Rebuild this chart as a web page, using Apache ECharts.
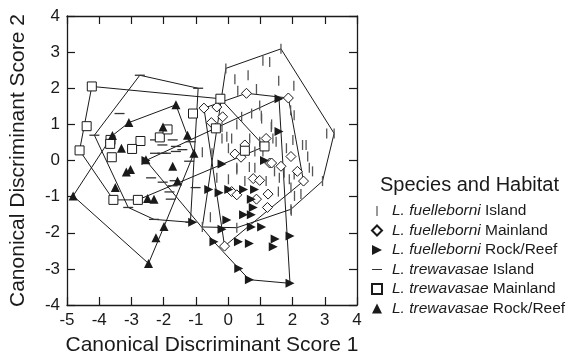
<!DOCTYPE html>
<html>
<head>
<meta charset="utf-8">
<script src="https://cdn.jsdelivr.net/npm/echarts@6/dist/echarts.min.js"></script>
<style>
html, body { margin: 0; padding: 0; background: #fff; }
#chart { width: 569px; height: 361px; }
</style>
</head>
<body>
<div id="chart"></div>
<script>
// axis ticks
var xTicks = [-5, -4, -3, -2, -1, 0, 1, 2, 3, 4];
var yTicks = [-4, -3, -2, -1, 0, 1, 2, 3, 4];

// L. fuelleborni Island  (|)
var fuelIsland = [
  [-0.07, 2.55], [1.64, 3.09], [3.29, 0.75], [2.93, -0.57], [1.95, -1.35], [0.27, -1.86], [-0.8, -1.84],
  [1.08, 2.76], [1.29, 2.73], [0.21, 2.25], [0.62, 2.36], [1.57, 2.21], [2.04, 2.07], [0.88, 1.98],
  [0.3, 1.93], [0.98, 1.52], [0.73, 1.3], [0.42, 1.21], [1.03, 1.24], [1.94, 1.39], [2.05, 1.25],
  [1.34, 0.93], [0.27, 1.0], [-0.19, 0.93], [-0.19, 0.61], [-0.04, 0.66], [0.67, 0.61], [1.39, 0.61],
  [1.49, 0.52], [2.31, 0.43], [2.42, 0.43], [3.06, 0.75], [1.08, 0.25], [2.01, 0.57], [2.47, 0.11],
  [1.81, 0.34], [0.98, 0.52], [0.83, 0.25], [0.11, 0.61], [0.01, 0.34], [-0.5, 0.2], [-0.8, 0.23],
  [1.04, 1.16], [1.35, 1.0], [0.27, -0.25], [0.83, -0.2], [1.59, -0.48], [1.74, -0.34], [2.05, -0.39],
  [1.9, -0.52], [1.44, -0.3], [1.18, -0.57], [0.52, -0.57], [0.01, -0.52], [-0.55, -1.57], [1.56, -0.86],
  [1.95, -0.75], [2.26, -0.93], [2.06, -0.98], [1.96, -1.39], [2.52, -0.2], [2.62, -0.3], [-0.35, -0.48],
  [0.66, -0.18], [0.27, -0.2]
];
var fuelIslandHull = [[-0.07, 2.55], [1.64, 3.09], [3.29, 0.75], [2.93, -0.57], [1.95, -1.35], [0.27, -1.86], [-0.8, -1.84]];

// L. fuelleborni Mainland  (diamond)
var fuelMain = [
  [0.57, 1.86], [1.87, 1.73], [-0.75, 1.45], [-0.35, 1.48], [-0.17, 1.21], [-0.52, 1.05], [1.18, 0.61],
  [0.52, 0.43], [0.21, 0.18], [0.4, 0.09], [1.29, -0.07], [1.35, -0.07], [1.64, -0.16], [1.95, 0.11],
  [2.15, -0.3], [2.34, -0.57], [0.78, -0.5], [0.98, -0.55], [0.11, -0.86], [0.27, -0.95], [0.88, -1.07],
  [1.24, -0.93], [1.22, -1.3], [-0.11, -2.37]
];
var fuelMainHull = [[0.57, 1.86], [1.87, 1.73], [2.34, -0.57], [-0.11, -2.37], [-0.75, 1.45]];

// L. fuelleborni Rock/Reef  (right triangle)
var fuelRock = [
  [1.58, 1.71], [1.58, 0.8], [1.13, 0.0], [-0.19, -0.1], [-0.6, -0.8], [-0.28, -0.89], [0.02, -0.8],
  [0.48, -0.8], [0.82, -0.8], [0.72, -1.07], [0.78, -1.3], [-0.04, -1.65], [0.48, -1.5], [0.72, -1.5],
  [1.04, -1.84], [0.72, -1.84], [-0.19, -1.9], [-1.1, -1.71], [1.46, -2.17], [1.4, -2.39], [1.92, -2.09],
  [0.32, -2.25], [0.66, -2.3], [-0.44, -2.25], [0.33, -2.99], [0.66, -3.3], [1.92, -3.4], [-2.55, 0.0]
];
var fuelRockHull = [[1.58, 1.71], [1.92, -3.4], [0.66, -3.3], [0.33, -2.99], [-0.44, -2.25], [-2.55, 0.0]];

// L. trewavasae Island  (dash)
var trewIsland = [
  [-2.74, 2.36], [-0.93, 2.0], [-1.17, -1.71], [-2.3, -1.63], [-3.1, -1.3], [-4.15, 0.7],
  [-3.37, 1.3], [-2.27, 0.57], [-2.04, 0.43], [-2.27, 0.2], [-2.04, 0.2], [-1.72, 0.57], [-1.62, 0.25],
  [-1.42, 0.3], [-1.16, 0.52], [-2.39, -0.48], [-2.03, -0.6], [-1.72, -0.7], [-1.78, -1.07], [-1.21, -0.02],
  [-1.01, -0.75], [-1.66, -0.56], [-1.82, -0.87], [-1.62, 0.39], [-1.93, 0.2]
];
var trewIslandHull = [[-2.74, 2.36], [-0.93, 2.0], [-1.17, -1.71], [-2.3, -1.63], [-3.1, -1.3], [-4.15, 0.7]];

// L. trewavasae Mainland  (square)
var trewMain = [
  [-4.23, 2.05], [-4.39, 0.95], [-4.61, 0.28], [-3.65, 0.57], [-3.66, 0.46], [-2.72, 0.54], [-2.98, 0.32],
  [-3.61, 0.09], [-2.12, 0.64], [-1.88, 0.86], [-1.09, 1.3], [-0.24, 1.71], [-0.38, 0.89], [0.52, 0.27],
  [1.13, 0.39], [-3.56, -1.09], [-2.8, -1.09]
];
var trewMainHull = [[-4.23, 2.05], [-0.24, 1.71], [1.13, 0.39], [-2.8, -1.09], [-3.56, -1.09], [-4.61, 0.28]];

// L. trewavasae Rock/Reef  (triangle)
var trewRock = [
  [-4.81, -0.98], [-2.47, -2.85], [-2.24, -2.14], [-1.99, -1.83], [-3.5, -0.75], [-3.16, -0.32], [-3.03, -0.25],
  [-2.5, -1.05], [-2.3, -1.07], [-3.59, 0.69], [-3.08, 1.05], [-3.31, 0.34], [-2.02, 0.93], [-2.55, 0.02],
  [-1.62, 1.54], [-1.26, 0.7], [-1.06, 0.2], [-1.72, -0.16], [-1.57, -0.57]
];
var trewRockHull = [[-1.62, 1.54], [-1.06, 0.2], [-1.99, -1.83], [-2.47, -2.85], [-4.81, -0.98], [-3.59, 0.69], [-3.08, 1.05]];

var groupNames = ['L. fuelleborni Island', 'L. fuelleborni Mainland', 'L. fuelleborni Rock/Reef',
  'L. trewavasae Island', 'L. trewavasae Mainland', 'L. trewavasae Rock/Reef'];

var font = '"Liberation Sans", Arial, Helvetica, sans-serif';
var ink = '#1a1a1a';

function hullSeries(pts) {
  return {
    type: 'line',
    data: pts.concat([pts[0]]),
    symbol: 'none',
    silent: true,
    z: 1,
    lineStyle: { color: ink, width: 1 },
    animation: false
  };
}

var myChart = echarts.init(document.getElementById('chart'), null, { renderer: 'canvas' });

var axisCommon = {
  type: 'value',
  axisLine: { onZero: false, lineStyle: { color: ink, width: 1.3 } },
  axisTick: { inside: true, length: 8, lineStyle: { color: ink, width: 1.2 } },
  splitLine: { show: false }
};

// legend icons drawn inside a 10x10 box (corner dots keep the box size)
var box = 'M0,0L0.01,0M10,10L9.99,10';

var option = {
  animation: false,
  backgroundColor: '#fff',
  textStyle: { fontFamily: font },
  title: {
    text: 'Species and Habitat',
    left: 375, top: 170,
    textStyle: { fontFamily: font, fontSize: 20, fontWeight: 'normal', color: ink }
  },
  legend: {
    orient: 'vertical',
    left: 366, top: 198,
    itemWidth: 20, itemHeight: 10,
    itemGap: 3.5,
    symbolKeepAspect: true,
    selectedMode: false,
    textStyle: {
      fontFamily: font, fontSize: 15.5, color: ink, lineHeight: 15,
      rich: { i: { fontFamily: font, fontSize: 15.5, fontStyle: 'italic', color: ink } }
    },
    formatter: function (name) {
      return name.replace(/^(L\. \w+)/, '{i|$1}');
    },
    data: [
      { name: groupNames[0], icon: 'path://' + box + 'M4.4,0h1.2v10h-1.2z' },
      { name: groupNames[1], icon: 'path://M5,0L10,5L5,10L0,5Z' },
      { name: groupNames[2], icon: 'path://M0,0L10,5L0,10Z' },
      { name: groupNames[3], icon: 'path://' + box + 'M0,4.4h10v1.2h-10z' },
      { name: groupNames[4], icon: 'path://M0,0h10v10h-10z' },
      { name: groupNames[5], icon: 'path://M5,0L10,10L0,10Z' }
    ]
  },
  grid: { left: 63, right: 212, top: 16, bottom: 52 },
  xAxis: [
    Object.assign({}, axisCommon, {
      min: xTicks[0], max: xTicks[xTicks.length - 1], interval: 1,
      axisLabel: { fontFamily: font, fontSize: 17, color: ink, margin: 7 },
      name: 'Canonical Discriminant Score 1',
      nameLocation: 'middle', nameGap: 30,
      nameTextStyle: { fontFamily: font, fontSize: 21, color: ink }
    }),
    Object.assign({}, axisCommon, {
      position: 'top',
      min: xTicks[0], max: xTicks[xTicks.length - 1], interval: 1,
      axisLabel: { show: false }
    })
  ],
  yAxis: [
    Object.assign({}, axisCommon, {
      min: yTicks[0], max: yTicks[yTicks.length - 1], interval: 1,
      axisLabel: { fontFamily: font, fontSize: 17, color: ink, margin: 7 },
      name: 'Canonical Discriminant Score 2',
      nameLocation: 'middle', nameGap: 38,
      nameTextStyle: { fontFamily: font, fontSize: 21, color: ink }
    }),
    Object.assign({}, axisCommon, {
      position: 'right',
      min: yTicks[0], max: yTicks[yTicks.length - 1], interval: 1,
      axisLabel: { show: false }
    })
  ],
  series: [
    hullSeries(fuelIslandHull),
    hullSeries(fuelMainHull),
    hullSeries(fuelRockHull),
    hullSeries(trewIslandHull),
    hullSeries(trewMainHull),
    hullSeries(trewRockHull),
    {
      name: groupNames[0], type: 'scatter', data: fuelIsland, z: 3,
      symbol: 'rect', symbolSize: [1.3, 10],
      itemStyle: { color: '#555', opacity: 1 }
    },
    {
      name: groupNames[1], type: 'scatter', data: fuelMain, z: 4,
      symbol: 'diamond', symbolSize: 10,
      itemStyle: { color: '#fff', borderColor: ink, borderWidth: 1, opacity: 1 }
    },
    {
      name: groupNames[2], type: 'scatter', data: fuelRock, z: 4,
      symbol: 'triangle', symbolRotate: -90, symbolSize: 9,
      itemStyle: { color: ink, opacity: 1 }
    },
    {
      name: groupNames[3], type: 'scatter', data: trewIsland, z: 3,
      symbol: 'rect', symbolSize: [10, 1.3],
      itemStyle: { color: '#333', opacity: 1 }
    },
    {
      name: groupNames[4], type: 'scatter', data: trewMain, z: 4,
      symbol: 'rect', symbolSize: 9,
      itemStyle: { color: '#fff', borderColor: ink, borderWidth: 1, opacity: 1 }
    },
    {
      name: groupNames[5], type: 'scatter', data: trewRock, z: 4,
      symbol: 'triangle', symbolSize: 9,
      itemStyle: { color: ink, opacity: 1 }
    }
  ]
};

myChart.setOption(option);
</script>
</body>
</html>
